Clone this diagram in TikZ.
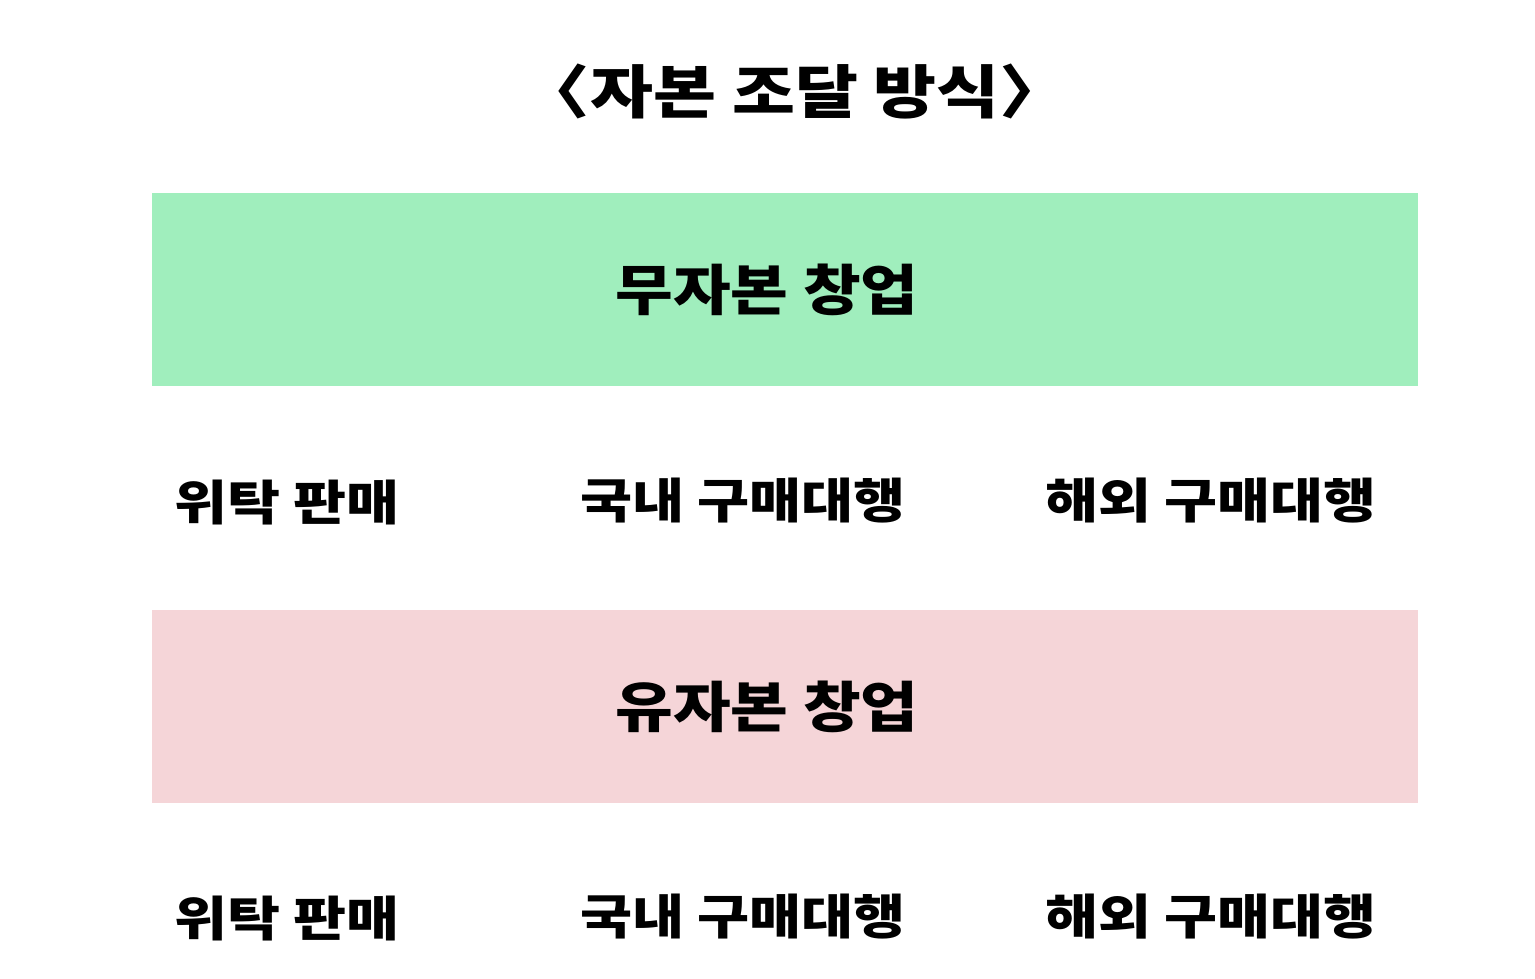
\documentclass[tikz,border=0pt]{standalone}
\usepackage{fontspec}
\setmainfont{Noto Sans CJK KR}[BoldFont={* Bold}]
\newfontfamily\krfont{Noto Sans CJK KR}
\definecolor{boxgreen}{HTML}{A0EEBD}
\definecolor{boxpink}{HTML}{F5D5D8}
\newcommand{\widetext}[2]{\scalebox{#1}[1]{#2}}
\tikzset{
  band/.style={draw=none, inner sep=0pt, minimum width=1266pt, minimum height=193pt},
  titletext/.style={font=\krfont\bfseries\fontsize{58}{64}\selectfont, inner sep=0pt},
  headtext/.style={font=\krfont\bfseries\fontsize{55}{60}\selectfont, inner sep=0pt},
  itemtext/.style={font=\krfont\bfseries\fontsize{48}{54}\selectfont, inner sep=0pt},
}
\begin{document}
\begin{tikzpicture}[x=1pt,y=-1pt]
\useasboundingbox (0,0) rectangle (1535,979);
\node[titletext] (title) at (795,92) {\widetext{1.18}{〈자본 조달 방식〉}};
\node[band, fill=boxgreen] (green) at (785,289.5) {};
\node[headtext] (nocap) at (767,290) {\widetext{1.14}{무자본 창업}};
\node[itemtext] (a1) at (287,503) {\widetext{1.2}{위탁 판매}};
\node[itemtext] (a2) at (743,501) {\widetext{1.18}{국내 구매대행}};
\node[itemtext] (a3) at (1211,501) {\widetext{1.2}{해외 구매대행}};
\node[band, fill=boxpink] (pink) at (785,706) {};
\node[headtext] (cap) at (767,707) {\widetext{1.14}{유자본 창업}};
\node[itemtext] (b1) at (287,919) {\widetext{1.2}{위탁 판매}};
\node[itemtext] (b2) at (743,917) {\widetext{1.18}{국내 구매대행}};
\node[itemtext] (b3) at (1211,917) {\widetext{1.2}{해외 구매대행}};
\end{tikzpicture}
\end{document}
